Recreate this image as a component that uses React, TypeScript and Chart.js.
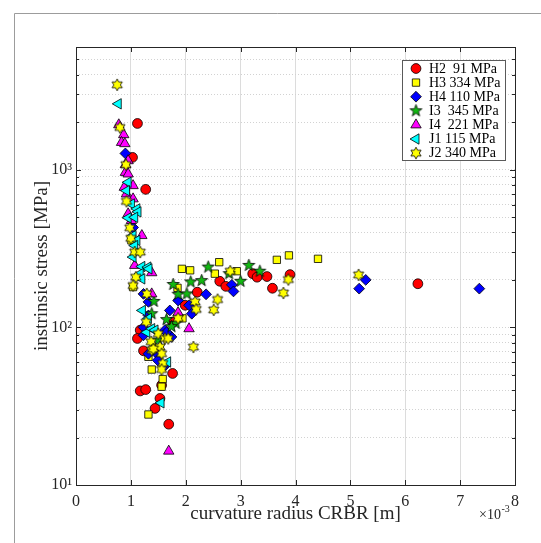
import React, { useEffect, useRef } from 'react';
import { Chart, registerables } from 'chart.js';
import { drawPoint } from 'chart.js/helpers';

Chart.register(...registerables);

const FONT = '"Liberation Serif", "Times New Roman", serif';

// curvature radius values in units of 1e-3 m, stress in MPa
const h2X = [1.12, 1.03, 1.27, 2.21, 2.62, 2.73, 3.22, 3.30, 3.48, 3.58, 3.90, 1.99, 1.76, 1.17, 1.12, 1.23, 1.76, 1.56, 1.17, 1.27, 1.53, 1.44, 1.69, 6.23];
const h2Y = [1964, 1197, 750, 167, 196, 182, 219, 208, 210, 177, 216, 138, 108, 96, 85, 71, 51, 43, 39.5, 40.3, 35.4, 30.6, 24.3, 189];

const h3X = [1.93, 2.08, 2.61, 2.53, 2.93, 3.66, 3.88, 4.41, 1.85, 1.94, 1.04, 1.01, 1.32, 1.38, 1.58, 1.56, 1.32];
const h3Y = [235, 230, 259, 219, 227, 268, 286, 272, 178, 114, 180, 356, 65, 54, 47, 42, 28];

const h4X = [0.90, 1.04, 2.37, 2.84, 2.87, 1.86, 1.71, 2.11, 1.62, 1.74, 1.32, 1.32, 1.23, 1.23, 1.65, 1.32, 1.50, 1.49, 1.62, 1.23, 2.06, 5.28, 5.16, 7.35];
const h4Y = [1268, 430, 162, 186, 169, 148, 128, 122, 96, 87, 145, 119, 100, 89, 93, 68, 66.5, 61.8, 57, 163, 138, 200, 176, 176];

const i3X = [2.41, 3.15, 3.35, 2.79, 1.77, 2.09, 2.29, 3.00, 1.86, 2.02, 1.65, 1.42, 1.38, 1.82, 1.74, 1.50];
const i3Y = [241, 247, 227, 219, 187, 194, 198, 196, 162, 163, 112, 146, 122, 106, 101, 83];

const i4X = [0.78, 0.87, 0.83, 0.89, 0.95, 0.90, 0.90, 0.95, 0.88, 1.04, 0.92, 1.04, 0.95, 1.01, 1.20, 1.07, 1.38, 1.38, 1.86, 2.06, 1.69];
const i4Y = [1927, 1667, 1489, 1462, 1140, 1076, 961, 939, 773, 792, 702, 653, 525, 476, 382, 247, 222, 163, 124, 98, 16.4];

const j1X = [0.77, 0.95, 0.92, 1.01, 1.11, 1.13, 0.95, 1.07, 1.04, 1.11, 1.07, 1.04, 1.20, 1.31, 1.33, 1.17, 1.20, 1.21, 1.32, 1.29, 1.38, 1.44, 1.67, 1.55];
const j1Y = [2616, 832, 736, 606, 564, 540, 495, 499, 382, 356, 330, 279, 243, 241, 235, 219, 203, 128, 114, 93, 98, 96, 60.3, 33.2];

const j2X = [0.75, 0.80, 0.91, 0.92, 0.98, 1.00, 1.07, 1.17, 1.09, 1.04, 1.29, 2.81, 3.87, 3.78, 2.58, 2.51, 2.17, 2.19, 2.14, 1.86, 1.28, 1.50, 1.37, 1.62, 1.38, 1.53, 1.56, 1.58, 1.56, 1.68, 5.15, 1.41];
const j2Y = [3451, 1853, 1076, 630, 428, 367, 300, 300, 208, 184, 163, 227, 201, 165, 150, 129, 145, 130, 75, 114, 108, 91, 81, 85, 71.5, 75, 68, 59, 54, 85, 215, 73];

const seriesNames = ['H2  91 MPa', 'H3 334 MPa', 'H4 110 MPa', 'I3  345 MPa', 'I4  221 MPa', 'J1 115 MPa', 'J2 340 MPa'];

const xTickValues = [0, 1, 2, 3, 4, 5, 6, 7, 8];
const yDecades = [10, 100, 1000];
const yMax = 6000;
const yMin = 10;

function makeStar(points: number, outer: number, inner: number, fill: string, size: number) {
  const c = document.createElement('canvas');
  c.width = size;
  c.height = size;
  const ctx = c.getContext('2d')!;
  ctx.beginPath();
  for (let i = 0; i < points * 2; i++) {
    const r = i % 2 === 0 ? outer : inner;
    const a = -Math.PI / 2 + (i * Math.PI) / points;
    ctx.lineTo(size / 2 + r * Math.cos(a), size / 2 + r * Math.sin(a));
  }
  ctx.closePath();
  ctx.fillStyle = fill;
  ctx.fill();
  ctx.lineWidth = 0.8;
  ctx.strokeStyle = '#000';
  ctx.stroke();
  return c;
}

function buildYGrid() {
  const vals: number[] = [];
  for (const d of yDecades) {
    for (let m = 1; m <= 9; m++) {
      const v = d * m;
      if (v <= yMax) vals.push(v);
    }
  }
  return vals;
}

export default function App() {
  const ref = useRef<HTMLCanvasElement | null>(null);

  useEffect(() => {
    const canvas = ref.current!;
    const pentagram = makeStar(5, 6.3, 2.6, '#12b812', 15);
    const hexagram = makeStar(6, 5.9, 3.3, '#ffff00', 14);

    const styles = [
      { color: '#ff0000', pointStyle: 'circle' as any, radius: 4.9, rotation: 0 },
      { color: '#ffff00', pointStyle: 'rect' as any, radius: 5.2, rotation: 0 },
      { color: '#0000ff', pointStyle: 'rectRot' as any, radius: 5.4, rotation: 0 },
      { color: '#12b812', pointStyle: pentagram as any, radius: 5, rotation: 0 },
      { color: '#ff00ff', pointStyle: 'triangle' as any, radius: 6, rotation: 0 },
      { color: '#00ffff', pointStyle: 'triangle' as any, radius: 6, rotation: -90 },
      { color: '#ffff00', pointStyle: hexagram as any, radius: 5, rotation: 0 },
    ];
    const xs = [h2X, h3X, h4X, i3X, i4X, j1X, j2X];
    const ys = [h2Y, h3Y, h4Y, i3Y, i4Y, j1Y, j2Y];

    const datasets = seriesNames.map((name, i) => ({
      label: name,
      data: xs[i].map((x, k) => ({ x, y: ys[i][k] })),
      backgroundColor: styles[i].color,
      borderColor: '#000000',
      borderWidth: 0.8,
      pointStyle: styles[i].pointStyle,
      pointRadius: styles[i].radius,
      pointRotation: styles[i].rotation,
      showLine: false,
      order: 7 - i,
    }));

    const yGrid = buildYGrid();
    const ink = '#262626';

    const decor = {
      id: 'decor',
      beforeDraw(chart: any) {
        const ctx = chart.ctx;
        ctx.save();
        ctx.fillStyle = '#ffffff';
        ctx.fillRect(0, 0, chart.width, chart.height);
        ctx.strokeStyle = '#9c9c9c';
        ctx.lineWidth = 1;
        ctx.beginPath();
        ctx.moveTo(14.5, chart.height);
        ctx.lineTo(14.5, 13.5);
        ctx.lineTo(chart.width, 13.5);
        ctx.stroke();
        ctx.restore();
      },
      afterDraw(chart: any) {
        const ctx = chart.ctx;
        const a = chart.chartArea;
        const xs = chart.scales.x;
        const ysc = chart.scales.y;
        ctx.save();
        ctx.strokeStyle = ink;
        ctx.lineWidth = 1;
        ctx.beginPath();
        for (const v of xTickValues) {
          const px = Math.round(xs.getPixelForValue(v)) + 0.5;
          ctx.moveTo(px, a.bottom);
          ctx.lineTo(px, a.bottom - 5);
          ctx.moveTo(px, a.top);
          ctx.lineTo(px, a.top + 5);
        }
        for (const v of yGrid) {
          const py = Math.round(ysc.getPixelForValue(v)) + 0.5;
          const len = yDecades.includes(v) ? 5 : 3;
          ctx.moveTo(a.left, py);
          ctx.lineTo(a.left + len, py);
          ctx.moveTo(a.right, py);
          ctx.lineTo(a.right - len, py);
        }
        ctx.stroke();
        ctx.strokeRect(Math.round(a.left) + 0.5, Math.round(a.top) + 0.5, Math.round(a.right - a.left), Math.round(a.bottom - a.top));

        // exponent label
        ctx.fillStyle = ink;
        ctx.textBaseline = 'alphabetic';
        ctx.textAlign = 'left';
        ctx.font = `14px ${FONT}`;
        const baseX = a.right - 36;
        ctx.fillText('\u00d710', baseX, 519);
        const w = ctx.measureText('\u00d710').width;
        ctx.font = `10px ${FONT}`;
        ctx.fillText('-3', baseX + w + 0.5, 512);

        // legend
        const lx = 402.5, ly = 60.5, lw = 103, lh = 100;
        ctx.fillStyle = '#ffffff';
        ctx.fillRect(lx, ly, lw, lh);
        ctx.strokeStyle = '#5a5a5a';
        ctx.strokeRect(lx, ly, lw, lh);
        ctx.font = `14px ${FONT}`;
        ctx.textBaseline = 'middle';
        seriesNames.forEach((name, i) => {
          const cy = 68.5 + i * 14.1;
          ctx.fillStyle = styles[i].color;
          ctx.strokeStyle = '#000000';
          ctx.lineWidth = 0.8;
          drawPoint(ctx, {
            pointStyle: styles[i].pointStyle,
            rotation: styles[i].rotation,
            radius: styles[i].radius,
            borderWidth: 0.8,
          } as any, 416, cy);
          ctx.fillStyle = '#000000';
          ctx.fillText(name, 429, cy + 0.5);
        });
        ctx.restore();
      },
    };

    const chart = new Chart(canvas, {
      type: 'scatter',
      data: { datasets: datasets as any },
      options: {
        animation: false,
        responsive: false,
        devicePixelRatio: 1,
        layout: { padding: { left: 0, top: 47, right: 26, bottom: 0 } },
        plugins: { legend: { display: false }, tooltip: { enabled: false } },
        scales: {
          x: {
            type: 'linear',
            min: 0,
            max: 8,
            afterFit: (s: any) => { s.height = 58; },
            afterBuildTicks: (s: any) => { s.ticks = xTickValues.map((v) => ({ value: v })); },
            ticks: {
              autoSkip: false,
              maxRotation: 0,
              font: { family: FONT, size: 16 },
              color: ink,
              padding: 7,
              callback: (v: any) => String(v),
            },
            grid: { color: '#dcdcdc', lineWidth: 1, drawTicks: false },
            border: { display: false },
            title: {
              display: true,
              text: 'curvature radius CRBR [m]',
              font: { family: FONT, size: 19 },
              color: ink,
              padding: { top: 0, bottom: 18 },
            },
          },
          y: {
            type: 'logarithmic',
            min: yMin,
            max: yMax,
            afterFit: (s: any) => { s.width = 76; },
            afterBuildTicks: (s: any) => { s.ticks = yGrid.map((v) => ({ value: v })); },
            ticks: {
              autoSkip: false,
              font: { family: FONT, size: 16 },
              color: ink,
              padding: 4,
              callback: (v: any) => {
                if (v === 10) return '10\u00b9';
                if (v === 100) return '10\u00b2';
                if (v === 1000) return '10\u00b3';
                return '';
              },
            },
            grid: { color: '#d2d2d2', lineWidth: 1, drawTicks: false },
            border: { display: false, dash: [1, 2] },
            title: {
              display: true,
              text: 'instrinsic stress [MPa]',
              font: { family: FONT, size: 19 },
              color: ink,
              padding: { top: 31, bottom: 0 },
            },
          },
        },
      },
      plugins: [decor],
    });
    return () => chart.destroy();
  }, []);

  return (
    <div style={{ position: 'absolute', left: 0, top: 0, width: 541, height: 543 }}>
      <canvas ref={ref} width={541} height={543} style={{ width: 541, height: 543, display: 'block' }} />
    </div>
  );
}
